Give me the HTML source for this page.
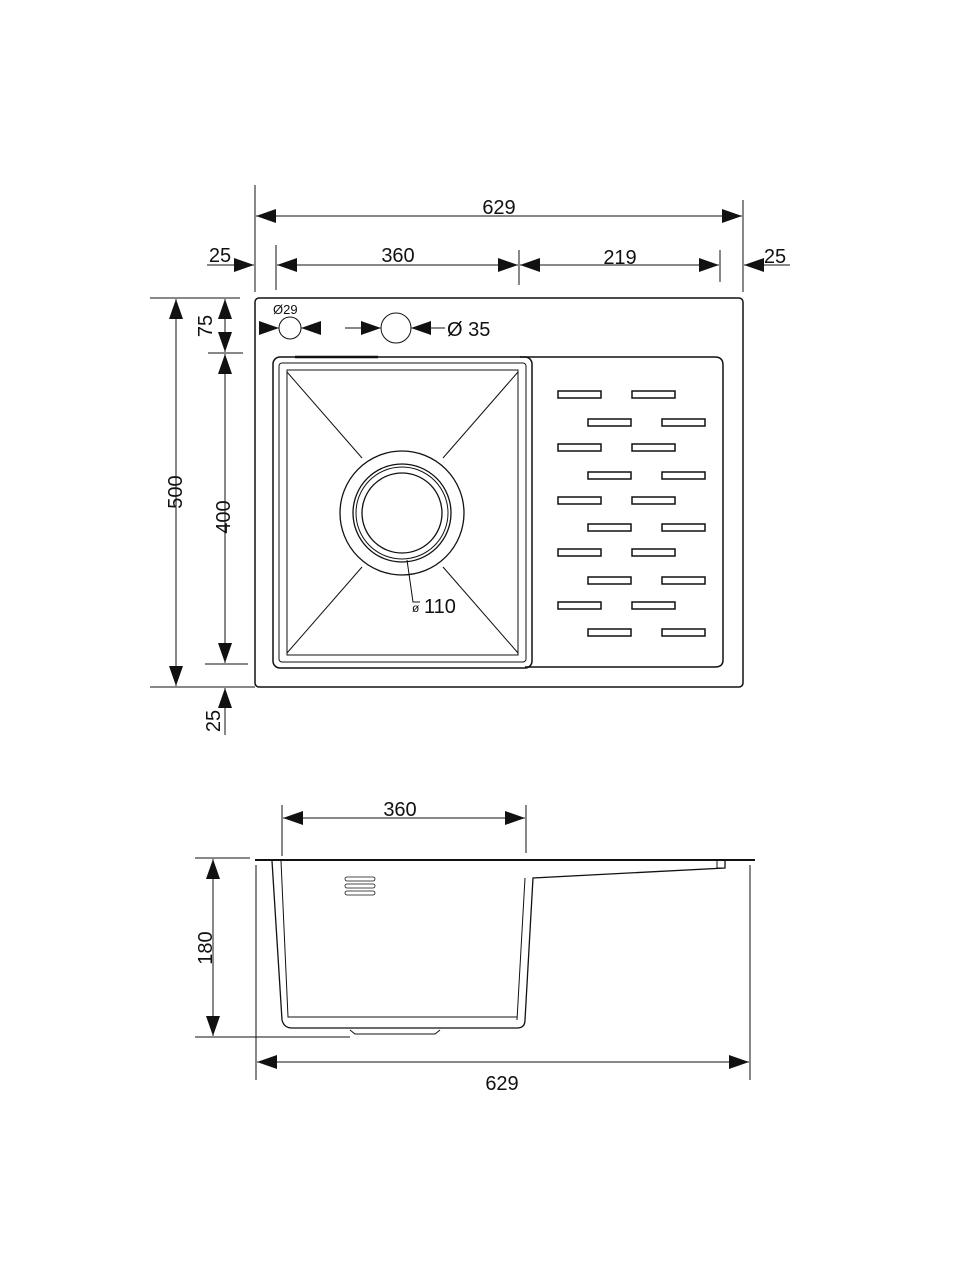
<!DOCTYPE html>
<html><head><meta charset="utf-8"><style>html,body{margin:0;padding:0;background:#fff}svg{display:block}text{font-family:"Liberation Sans",Arial,sans-serif;fill:#111}</style></head>
<body>
<svg width="960" height="1280" viewBox="0 0 960 1280" xmlns="http://www.w3.org/2000/svg">
<defs>
<marker id="a" viewBox="0 0 20 14" refX="20" refY="7" markerWidth="20" markerHeight="14" markerUnits="userSpaceOnUse" orient="auto-start-reverse"><path d="M0,0 L20,7 L0,14 Z" fill="#111"/></marker>
</defs>
<g stroke="#111" stroke-width="1" fill="none">
<!-- top dims -->
<line x1="255" y1="185" x2="255" y2="292"/>
<line x1="743" y1="200" x2="743" y2="292"/>
<line x1="276" y1="245" x2="276" y2="290"/>
<line x1="519" y1="250" x2="519" y2="285"/>
<line x1="720" y1="250" x2="720" y2="282"/>
<line x1="256" y1="216" x2="742" y2="216" marker-start="url(#a)" marker-end="url(#a)"/>
<line x1="277" y1="265" x2="518" y2="265" marker-start="url(#a)" marker-end="url(#a)"/>
<line x1="520" y1="265" x2="719" y2="265" marker-start="url(#a)" marker-end="url(#a)"/>
<line x1="207" y1="265" x2="254" y2="265" marker-end="url(#a)"/>
<line x1="207" y1="265" x2="232" y2="265"/>
<line x1="790" y1="265" x2="744" y2="265" marker-end="url(#a)"/>
<!-- left dims -->
<line x1="150" y1="298" x2="240" y2="298"/>
<line x1="150" y1="687" x2="255" y2="687"/>
<line x1="208" y1="353" x2="243" y2="353"/>
<line x1="205" y1="664" x2="248" y2="664"/>
<line x1="176" y1="299" x2="176" y2="686" marker-start="url(#a)" marker-end="url(#a)"/>
<line x1="225" y1="299" x2="225" y2="352" marker-start="url(#a)" marker-end="url(#a)"/>
<line x1="225" y1="354" x2="225" y2="663" marker-start="url(#a)" marker-end="url(#a)"/>
<line x1="225" y1="735" x2="225" y2="688" marker-end="url(#a)"/>
<!-- plate -->
<rect x="255" y="298" width="488" height="389" rx="4" stroke-width="1.5"/>
<!-- drainboard recess -->
<path d="M520,357 L715,357 Q723,357 723,365 L723,660 Q723,667 715,667 L525,667" stroke-width="1.5"/>
<!-- bowl -->
<rect x="273" y="357" width="259" height="311" rx="7" stroke-width="1.5"/>
<rect x="279" y="363" width="247" height="299" rx="3"/>
<rect x="287" y="370" width="231" height="285"/>
<line x1="295" y1="357" x2="378" y2="357" stroke-width="2.5"/>
<line x1="287" y1="372" x2="362" y2="458"/>
<line x1="518" y1="372" x2="443" y2="458"/>
<line x1="287" y1="653" x2="362" y2="567"/>
<line x1="518" y1="653" x2="443" y2="567"/>
<circle cx="402" cy="513" r="62" stroke-width="1.3"/>
<circle cx="402" cy="513" r="49" stroke-width="1.3"/>
<circle cx="402" cy="513" r="46"/>
<circle cx="402" cy="513" r="40" stroke-width="1.3"/>
<polyline points="407,560 413,602 420,602"/>
<!-- taps -->
<circle cx="290" cy="328" r="11"/>
<line x1="265" y1="328" x2="279" y2="328" marker-end="url(#a)"/>
<line x1="315" y1="328" x2="301" y2="328" marker-end="url(#a)"/>
<circle cx="396" cy="328" r="15"/>
<line x1="345" y1="328" x2="381" y2="328" marker-end="url(#a)"/>
<line x1="445" y1="328" x2="411" y2="328" marker-end="url(#a)"/>
<!-- slots -->
<g stroke-width="1.5">
<rect x="558" y="391" width="43" height="7"/><rect x="632" y="391" width="43" height="7"/>
<rect x="588" y="419" width="43" height="7"/><rect x="662" y="419" width="43" height="7"/>
<rect x="558" y="444" width="43" height="7"/><rect x="632" y="444" width="43" height="7"/>
<rect x="588" y="472" width="43" height="7"/><rect x="662" y="472" width="43" height="7"/>
<rect x="558" y="497" width="43" height="7"/><rect x="632" y="497" width="43" height="7"/>
<rect x="588" y="524" width="43" height="7"/><rect x="662" y="524" width="43" height="7"/>
<rect x="558" y="549" width="43" height="7"/><rect x="632" y="549" width="43" height="7"/>
<rect x="588" y="577" width="43" height="7"/><rect x="662" y="577" width="43" height="7"/>
<rect x="558" y="602" width="43" height="7"/><rect x="632" y="602" width="43" height="7"/>
<rect x="588" y="629" width="43" height="7"/><rect x="662" y="629" width="43" height="7"/>
</g>
<!-- side view -->
<line x1="282" y1="805" x2="282" y2="856"/>
<line x1="526" y1="805" x2="526" y2="853"/>
<line x1="283" y1="818" x2="525" y2="818" marker-start="url(#a)" marker-end="url(#a)"/>
<line x1="255" y1="860" x2="755" y2="860" stroke-width="2"/>
<line x1="195" y1="858" x2="250" y2="858"/>
<line x1="195" y1="1037" x2="350" y2="1037"/>
<line x1="213" y1="859" x2="213" y2="1036" marker-start="url(#a)" marker-end="url(#a)"/>
<line x1="256" y1="865" x2="256" y2="1080"/>
<line x1="750" y1="865" x2="750" y2="1080"/>
<line x1="257" y1="1062" x2="749" y2="1062" marker-start="url(#a)" marker-end="url(#a)"/>
<path d="M272,861 L282,1020 Q284,1028 292,1028 L517,1028 Q525,1028 525,1020 L533,878 L725,868 L725,861" stroke-width="1.3"/>
<path d="M281,861 L288,1017 L517,1017 M525,878 L517,1020 M717,861 L717,868 L725,868" />
<path d="M350,1030 L355,1034 L435,1034 L440,1030" />
<g stroke-width="0.8"><rect x="345" y="877" width="30" height="4" rx="2"/><rect x="345" y="884" width="30" height="4" rx="2"/><rect x="345" y="891" width="30" height="4" rx="2"/></g>
</g>
<g font-size="20">
<text x="499" y="214" text-anchor="middle">629</text>
<text x="398" y="262" text-anchor="middle">360</text>
<text x="620" y="264" text-anchor="middle">219</text>
<text x="220" y="262" text-anchor="middle">25</text>
<text x="775" y="263" text-anchor="middle">25</text>
<text transform="translate(182,492) rotate(-90)" text-anchor="middle">500</text>
<text transform="translate(230,517) rotate(-90)" text-anchor="middle">400</text>
<text transform="translate(212,326) rotate(-90)" text-anchor="middle">75</text>
<text transform="translate(220,721) rotate(-90)" text-anchor="middle">25</text>
<text x="447" y="336">Ø 35</text>
<text x="424" y="613">110</text>
<text x="400" y="816" text-anchor="middle">360</text>
<text transform="translate(212,948) rotate(-90)" text-anchor="middle">180</text>
<text x="502" y="1090" text-anchor="middle">629</text>
</g>
<text x="273" y="314" font-size="13">Ø29</text>
<text x="412" y="612" font-size="12">ø</text>
</svg>
</body></html>
